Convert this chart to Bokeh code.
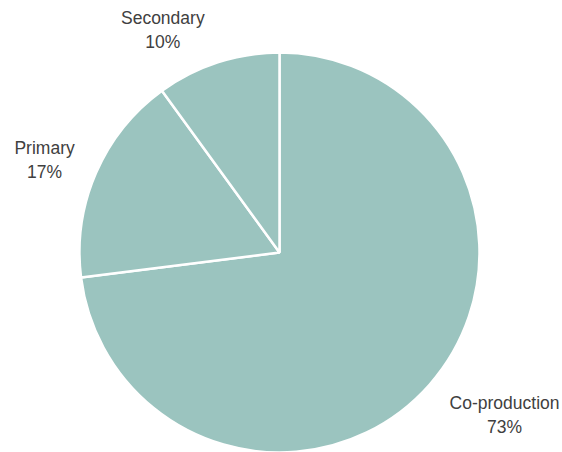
import math
from bokeh.plotting import figure
from bokeh.models import ColumnDataSource, Range1d
from bokeh.core.properties import value
from bokeh.embed import file_html
from bokeh.resources import INLINE

# Data
categories = ["Co-production", "Primary", "Secondary"]
shares = [73, 17, 10]

# Layout / style
W, H = 562, 452
CX, CY = 279, 452 - 252
R = 200
R_LABEL = 232
label_dx = [51, -22, -45]
label_dy = [-9, 0, 2]
FILL = "#9BC4BF"
TEXT_COLOR = "#404040"

total = float(sum(shares))
starts, ends, lx, ly, labels = [], [], [], [], []
cum = 0.0
for i, (c, v) in enumerate(zip(categories, shares)):
    a0 = math.pi / 2 - 2 * math.pi * cum / total
    cum += v
    a1 = math.pi / 2 - 2 * math.pi * cum / total
    starts.append(a0)
    ends.append(a1)
    mid = (a0 + a1) / 2
    lx.append(CX + R_LABEL * math.cos(mid) + label_dx[i])
    ly.append(CY + R_LABEL * math.sin(mid) + label_dy[i])
    labels.append(f"{c}\n{round(100 * v / total)}%")

src = ColumnDataSource(dict(x=[CX] * len(shares), y=[CY] * len(shares),
                            start=starts, end=ends, cat=categories))
lab = ColumnDataSource(dict(x=lx, y=ly, text=labels))

p = figure(width=W, height=H, x_range=Range1d(0, W), y_range=Range1d(0, H),
           output_backend="svg", toolbar_location=None, min_border=0)
p.axis.visible = False
p.grid.visible = False
p.outline_line_color = None
p.background_fill_color = "white"
p.border_fill_color = "white"

p.wedge(x="x", y="y", radius=R, start_angle="start", end_angle="end",
        direction="clock", source=src, fill_color=FILL, line_color="white",
        line_width=2.5)

p.text(x="x", y="y", text="text", source=lab, text_align="center",
       text_baseline="middle", text_font=value("Liberation Sans"),
       text_font_size="17.5px", text_color=TEXT_COLOR, text_line_height=1.2)

open("out.html", "w").write(file_html(p, INLINE))
